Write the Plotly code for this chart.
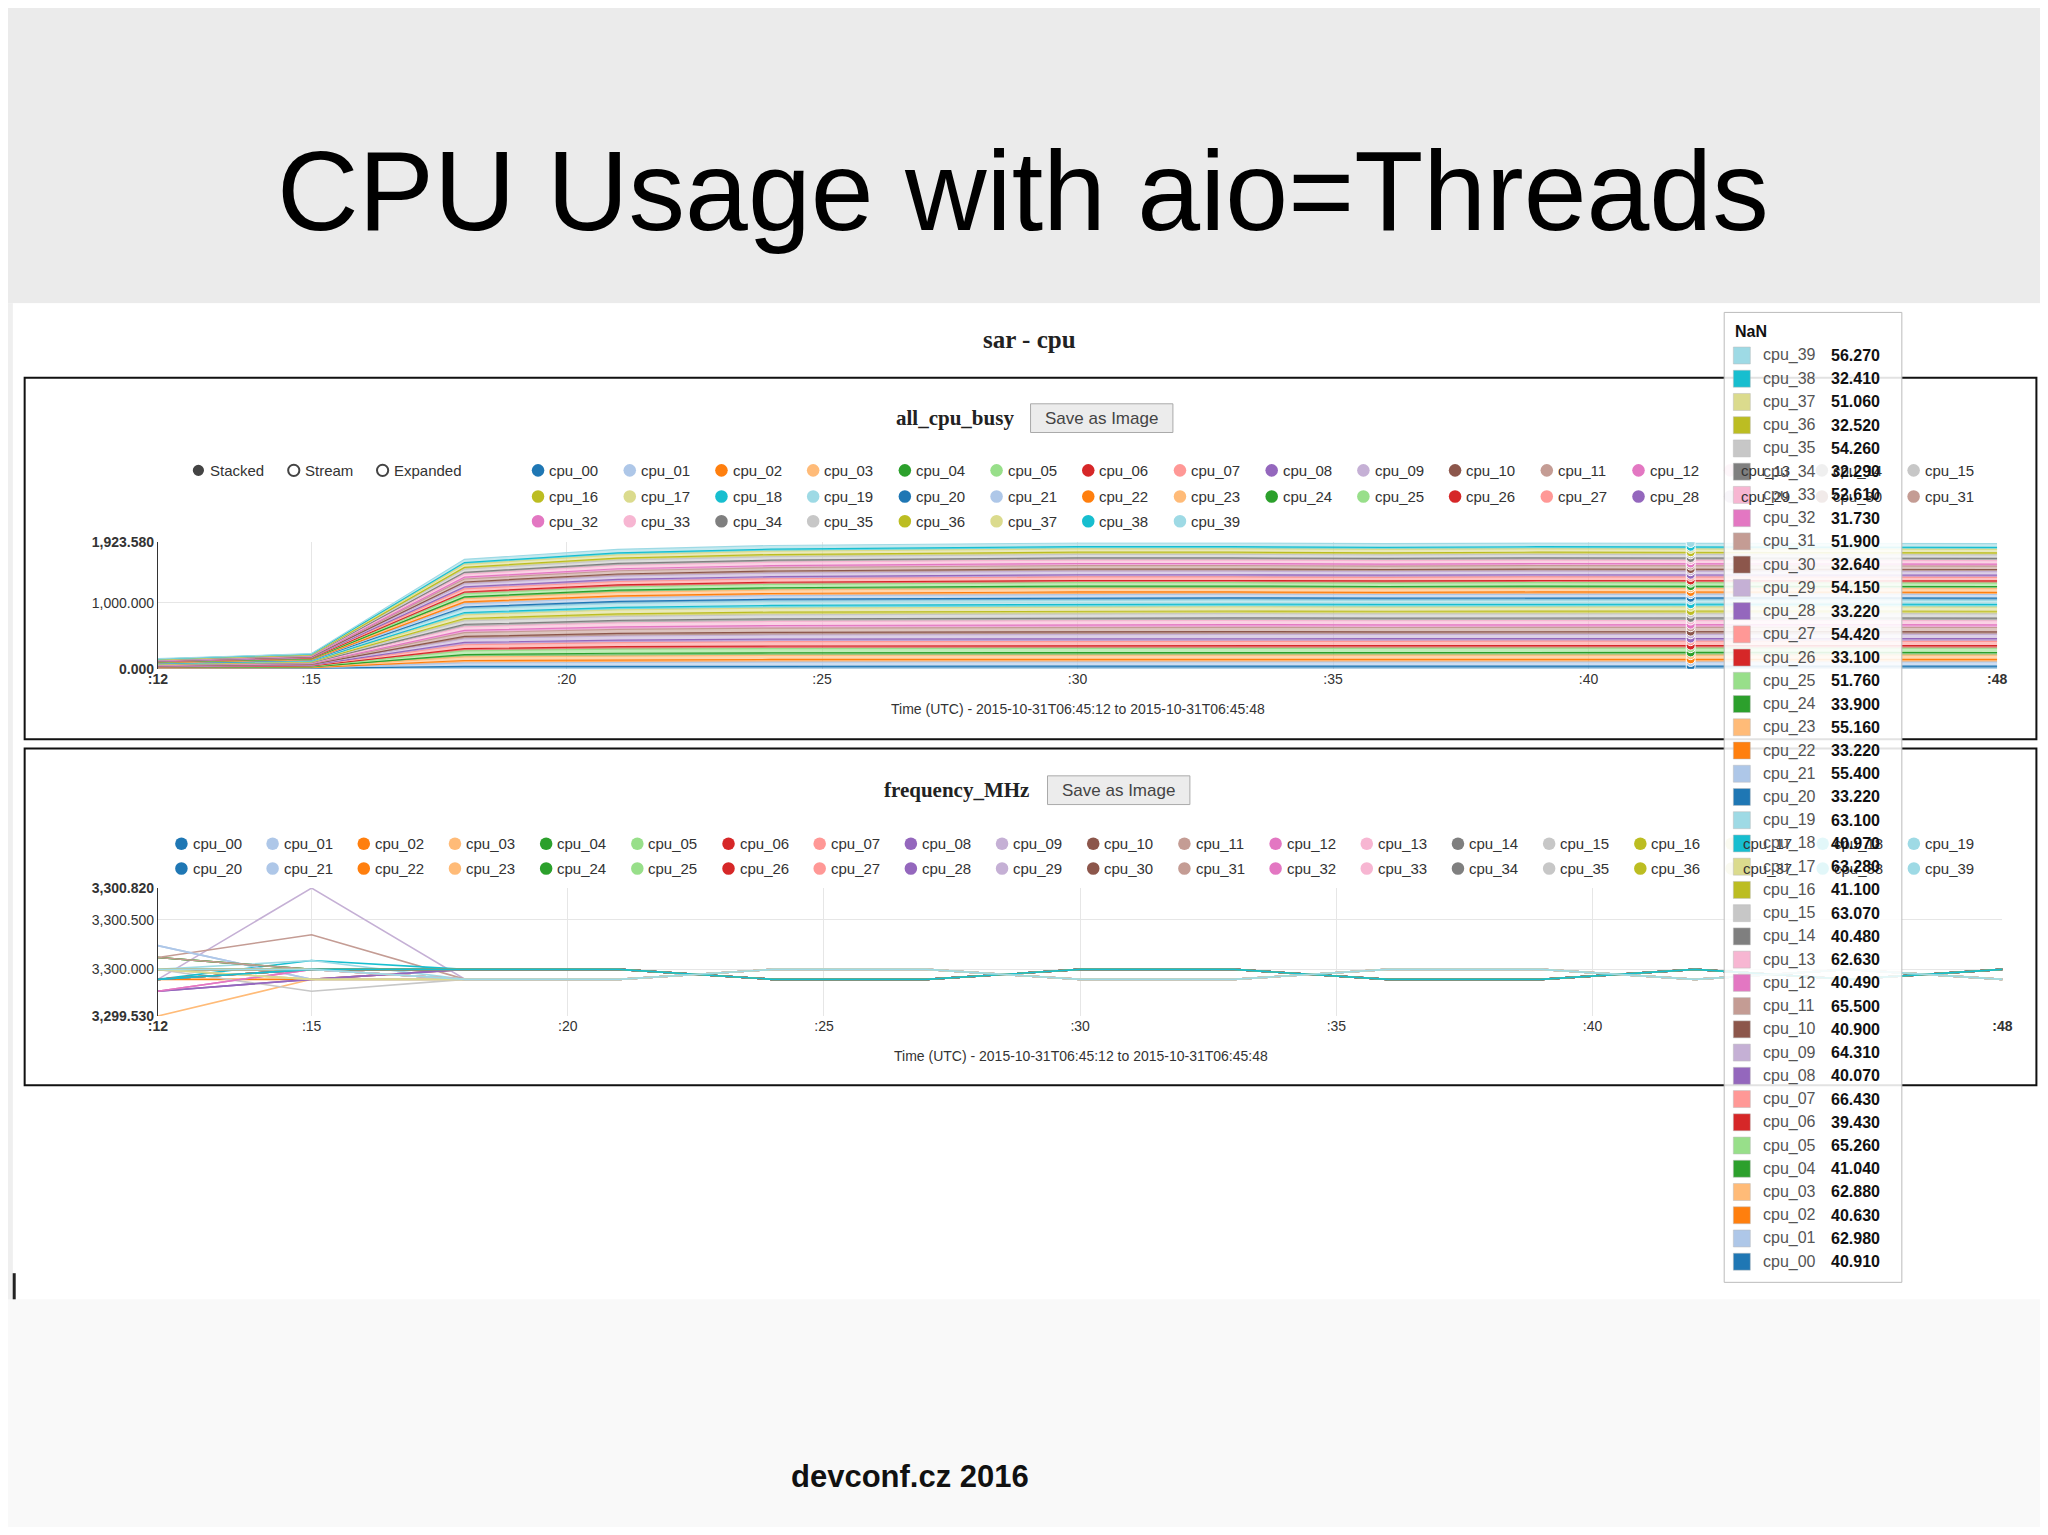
import plotly.graph_objects as go

# sample times (seconds past 06:45)
times = [12, 15, 18, 21, 24, 27, 30, 33, 36, 39, 42, 45, 48]

cpu_names = [f"cpu_{i:02d}" for i in range(40)]

# all_cpu_busy level per cpu (read from the hover box at :42)
busy_level = [40.91, 62.98, 40.63, 62.88, 41.04, 65.26, 39.43, 66.43, 40.07, 64.31,
              40.90, 65.50, 40.49, 62.63, 40.48, 63.07, 41.10, 63.28, 40.97, 63.10,
              33.22, 55.40, 33.22, 55.16, 33.90, 51.76, 33.10, 54.42, 33.22, 54.15,
              32.64, 51.90, 31.73, 52.61, 32.29, 54.26, 32.52, 51.06, 32.41, 56.27]
# share of that level reached at each sample time
busy_ramp = [0.08, 0.12, 0.87, 0.95, 0.98, 0.99, 1.0, 1.0, 0.995, 1.0, 1.0, 1.0, 0.995]

# frequency_MHz per cpu at :12 and :15, then one of two tail patterns
freq_12 = [3300.0, 3300.24, 3299.9, 3299.53, 3300.12, 3300.0, 3299.9, 3300.0, 3299.78, 3299.9,
           3300.0, 3300.12, 3299.78, 3300.0, 3299.9, 3300.0, 3299.9, 3300.0, 3299.9, 3300.0,
           3300.0, 3300.24, 3299.9, 3300.0, 3300.12, 3300.0, 3299.9, 3300.0, 3299.78, 3299.9,
           3300.0, 3300.12, 3299.78, 3300.0, 3299.9, 3300.0, 3300.0, 3300.0, 3299.9, 3300.0]
freq_15 = [3300.0, 3299.9, 3299.9, 3299.9, 3300.0, 3300.0, 3300.0, 3300.0, 3299.9, 3300.82,
           3300.0, 3300.35, 3300.0, 3300.0, 3300.0, 3299.78, 3300.0, 3300.0, 3300.09, 3300.09,
           3300.0, 3299.9, 3300.0, 3299.9, 3300.0, 3300.0, 3300.0, 3300.0, 3299.9, 3300.0,
           3300.0, 3300.0, 3300.0, 3300.0, 3300.0, 3299.9, 3300.0, 3299.9, 3300.0, 3300.0]
freq_tail_a = [3300.0, 3300.0, 3299.9, 3299.9, 3300.0, 3300.0, 3299.9, 3299.9, 3300.0, 3299.9, 3300.0]
freq_tail_b = [3299.9, 3299.9, 3300.0, 3300.0, 3299.9, 3299.9, 3300.0, 3300.0, 3299.9, 3300.0, 3299.9]

palette = ["#1f77b4", "#aec7e8", "#ff7f0e", "#ffbb78", "#2ca02c", "#98df8a", "#d62728",
           "#ff9896", "#9467bd", "#c5b0d5", "#8c564b", "#c49c94", "#e377c2", "#f7b6d2",
           "#7f7f7f", "#c7c7c7", "#bcbd22", "#dbdb8d", "#17becf", "#9edae5"]

OFF = 8  # the page body adds an 8px margin on every side
W, H = 2048 - 2 * OFF, 1535 - 2 * OFF
S = 2048 / 1568.0  # layout measured on a 1568-wide copy
K = 1 / 0.99       # small correction measured against a test render


def px(x):
    return 0.5 + ((x * S - OFF) / W - 0.5) * K


def py(y):
    return 0.5 + ((1 - (y * S - OFF) / H) - 0.5) * K


def rgba(hexc, a):
    h = hexc.lstrip("#")
    return f"rgba({int(h[0:2], 16)},{int(h[2:4], 16)},{int(h[4:6], 16)},{a})"


fig = go.Figure()

# stacked area
for i, name in enumerate(cpu_names):
    c = palette[i % 20]
    fig.add_trace(go.Scatter(x=times, y=[busy_level[i] * r for r in busy_ramp], name=name,
                             stackgroup="busy", mode="lines", line=dict(color=c, width=1.2),
                             fillcolor=rgba(c, 0.6), xaxis="x", yaxis="y", showlegend=False))

# hover dots at :42
hx = times.index(42)
cum, tot = [], 0
for i in range(40):
    tot += busy_level[i] * busy_ramp[hx]
    cum.append(tot)
fig.add_trace(go.Scatter(x=[42] * 40, y=cum, mode="markers", xaxis="x", yaxis="y",
                         marker=dict(size=9, color=[palette[i % 20] for i in range(40)],
                                     line=dict(width=1, color="white")), showlegend=False))

# frequency lines
for i, name in enumerate(cpu_names):
    tail = freq_tail_a if i % 2 == 0 else freq_tail_b
    fig.add_trace(go.Scatter(x=times, y=[freq_12[i], freq_15[i]] + tail, name=name,
                             mode="lines", line=dict(color=palette[i % 20], width=1.6),
                             xaxis="x2", yaxis="y2", showlegend=False))

tickfont = dict(family="Liberation Sans Narrow, Liberation Sans, sans-serif", size=14, color="#333")
xt = [12, 15, 20, 25, 30, 35, 40, 48]
xl = ["<b>:12</b>", ":15", ":20", ":25", ":30", ":35", ":40", "<b>:48</b>"]
grid = "#e6e6e6"

fig.update_layout(
    width=W, height=H, margin=dict(l=0, r=0, t=0, b=0),
    paper_bgcolor="#f9f9f9", plot_bgcolor="rgba(0,0,0,0)", showlegend=False,
    xaxis=dict(domain=[px(121), px(1529)], anchor="y", range=[12, 48], tickvals=xt, ticktext=xl,
               tickfont=tickfont, showgrid=True, gridcolor=grid, zeroline=False, showline=False),
    yaxis=dict(domain=[py(512), py(415)], anchor="x", range=[0, 1923.58],
               tickvals=[0, 1000, 1923.58], ticktext=["<b>0.000</b>", "1,000.000", "<b>1,923.580</b>"],
               tickfont=tickfont, showgrid=True, gridcolor=grid, zeroline=False,
               showline=True, linecolor="#333", linewidth=1),
    xaxis2=dict(domain=[px(121), px(1533)], anchor="y2", range=[12, 48], tickvals=xt, ticktext=xl,
                tickfont=tickfont, showgrid=True, gridcolor=grid, zeroline=False, showline=False),
    yaxis2=dict(domain=[py(778), py(680)], anchor="x2", range=[3299.53, 3300.82],
                tickvals=[3299.53, 3300.0, 3300.5, 3300.82],
                ticktext=["<b>3,299.530</b>", "3,300.000", "3,300.500", "<b>3,300.820</b>"],
                tickfont=tickfont, showgrid=True, gridcolor=grid, zeroline=False,
                showline=True, linecolor="#333", linewidth=1),
)

shapes, ann = [], []


def rect(x0, y0, x1, y1, fill, line="rgba(0,0,0,0)", lw=0, layer="below"):
    shapes.append(dict(type="rect", xref="paper", yref="paper", x0=px(x0), x1=px(x1),
                       y0=py(y1), y1=py(y0), fillcolor=fill, line=dict(color=line, width=lw),
                       layer=layer))


def text(x, y, s, size, color="#333", family="Liberation Sans, sans-serif", xanchor="left"):
    ann.append(dict(x=px(x), y=py(y), xref="paper", yref="paper", text=s, showarrow=False,
                    xanchor=xanchor, yanchor="middle", font=dict(size=size, color=color, family=family)))


def dot(x, y, r, color, filled=True, layer="above"):
    shapes.append(dict(type="circle", xref="paper", yref="paper",
                       x0=px(x - r), x1=px(x + r), y0=py(y + r), y1=py(y - r),
                       fillcolor=color if filled else "white",
                       line=dict(color=color, width=2 if not filled else 0), layer=layer))


# backgrounds
rect(-20, -20, 1590, 232, "#ebebeb")
rect(-20, 232, 10, 995, "#efefef")
rect(10, 232, 1590, 995, "white")
shapes.append(dict(type="line", xref="paper", yref="paper", x0=px(11), x1=px(11),
                   y0=py(995), y1=py(975), line=dict(color="#222", width=3)))
rect(19, 289, 1559, 566, "rgba(0,0,0,0)", "#111", 2)
rect(19, 573, 1559, 831, "rgba(0,0,0,0)", "#111", 2)

text(783, 146, "CPU Usage with aio=Threads", 113, "#000", xanchor="center")
text(697, 1131, "<b>devconf.cz 2016</b>", 31, "#111", xanchor="center")
text(788, 260, "<b>sar - cpu</b>", 25, "#222", "Liberation Serif, serif", "center")

# chart headers + buttons
text(731, 320, "<b>all_cpu_busy</b>", 21, "#222", "Liberation Serif, serif", "center")
rect(789, 309, 898, 331, "#ececec", "#aaa", 1)
text(843.5, 320, "Save as Image", 17, "#444", xanchor="center")
text(732, 605, "<b>frequency_MHz</b>", 21, "#222", "Liberation Serif, serif", "center")
rect(802, 594, 911, 616, "#ececec", "#aaa", 1)
text(856.5, 605, "Save as Image", 17, "#444", xanchor="center")

text(825, 543, "Time (UTC) - 2015-10-31T06:45:12 to 2015-10-31T06:45:48", 14, xanchor="center")
text(828, 809, "Time (UTC) - 2015-10-31T06:45:12 to 2015-10-31T06:45:48", 14, xanchor="center")

# mode selector
for k, (lbl, xx) in enumerate([("Stacked", 152), ("Stream", 225), ("Expanded", 293)]):
    dot(xx, 360, 4.3, "#444", filled=(k == 0))
    text(xx + 7, 360, lbl, 15)

# legends
for i, name in enumerate(cpu_names):
    r, c = divmod(i, 16)
    y = [360, 380, 399][r]
    x = 412 + 70.2 * c
    dot(x, y, 4.8, palette[i % 20], layer="below")
    text(x + 7, y, name, 15)
    r, c = divmod(i, 20)
    y = [646, 665][r]
    x = 139 + 69.8 * c
    dot(x, y, 4.8, palette[i % 20], layer="below")
    text(x + 7, y, name, 15)

# tooltip
rect(1320, 239, 1456, 982, "rgba(255,255,255,0.88)", "#bbb", 1, layer="above")
text(1327, 254, "<b>NaN</b>", 16, "#111")
for k in range(40):
    i = 39 - k
    y = 272 + 17.8 * k
    rect(1327, y - 6.5, 1340, y + 6.5, palette[i % 20], "#bbb", 0.5, layer="above")
    text(1348, y, cpu_names[i], 16, "#555")
    text(1400, y, f"<b>{busy_level[i]:.3f}</b>", 16, "#111")

fig.update_layout(shapes=shapes, annotations=ann)
fig.write_html("out.html")
